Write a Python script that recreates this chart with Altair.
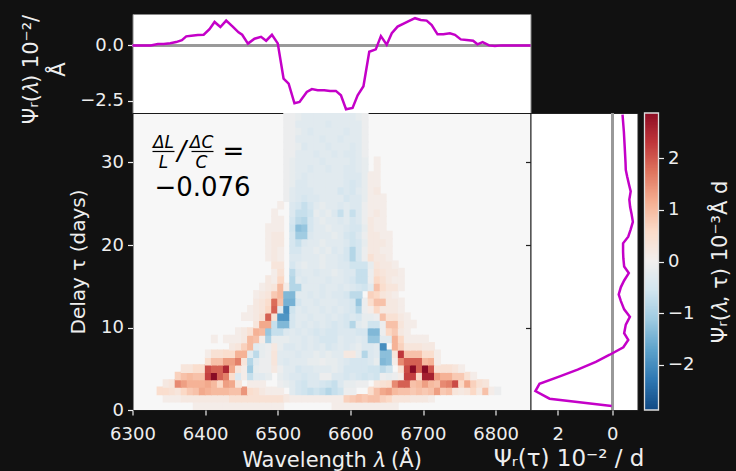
import altair as alt
import numpy as np
import pandas as pd
from altair.utils.html import HTML_TEMPLATE

# top panel: response vs wavelength
TOP_WL = [6300,6317,6325,6335,6343,6352,6360,6368,6374,6381,6390,6398,6406,6413,6421,6429,6438,6446,6451,6459,6468,6477,6484,6492,6500,6508,6515,6523,6530,6540,6547,6555,6564,6572,6580,6587,6594,6603,6610,6618,6626,6635,6642,6650,6657,6665,6674,6681,6689,6697,6705,6712,6720,6728,6737,6744,6752,6760,6769,6775,6782,6791,6799,6808,6848]
TOP_VAL = [0,0,0,.06,.06,.1,.15,.24,.41,.44,.47,.48,.73,1.06,.83,1.12,.85,.59,.48,.08,.3,.39,.21,.48,.09,-1.5,-1.73,-2.62,-2.56,-2.11,-1.98,-2.03,-2.03,-2.06,-2.06,-2.26,-2.89,-2.83,-2.26,-1.85,-.29,-.18,.42,.03,.55,.85,1.0,1.11,1.23,1.15,1.12,.92,.5,.5,.55,.48,.27,.24,.21,.05,.15,0,-.03,0,0]

# right panel: response vs delay
RIGHT_DELAY = [.48,1.37,2.3,3.18,4.1,4.9,5.84,6.7,7.6,8.5,9.3,10.35,11.3,12.2,13.2,14,14.9,15.7,16.6,17.4,18.4,19.2,20.2,21,21.9,22.8,23.8,24.6,25.5,26.5,27.3,28.3,29.1,30,31.9,33.7,35.8]
RIGHT_VAL = [.02,2.3,2.82,2.67,1.9,1.27,.6,.09,-.41,-.59,-.44,-.5,-.65,-.44,-.32,-.24,-.32,-.44,-.61,-.44,-.41,-.4,-.4,-.59,-.68,-.76,-.71,-.66,-.63,-.68,-.62,-.55,-.5,-.49,-.46,-.43,-.38]

# heat map, tenths of a unit, rows from delay 0 upward, columns from 6300 A
HEAT_ROWS = [
 [0]*10+[1]*15+[0]*8+[1]*11,
 [0]*5+[1,1,1,2,2,2,2,2,2,2,2,4,4,4,4,4,4,4,4,4,2,1,1,1,1,1,1,1,1,1,7,8,9,8,9,9,7,6,3,3,3,2,2,2,1],
 [0,0,0,0,5,5,4,3,6,8,9,12,11,10,10,10,9,9,14,5,4,2,1,1,1,0,-3,-5,-6,-7,-6,-7,-9,-7,-6,-1,-1,0,0,5,9,12,13,10,9,9,8,9,8,9,13,8,9,3,2,3,6,2,9,1,-1],
 [0,0,0,0,0,2,3,15,13,11,11,11,12,10,6,13,12,3,0,1,1,1,0,0,-1,-2,-3,-5,-6,-4,-4,-5,-6,-7,-4,-2,-2,-1,-1,0,3,4,5,15,19,19,9,10,13,10,9,15,16,21,6,12,7,4,3],
 [0]*7+[7,9,10,9,9,22,29,19,16,5,-4,1,-7,-3,-3,-2,0,-2,-3,-4,-4,-5,-4,-4,-1,-1,-4,-4,-5,-4,-5,-6,-5,-6,-1,-2,-1,1,22,22,6,26,26,13,11,11,8,8,4,1],
 [0]*8+[3,3,5,5,21,19,19,25,12,3,1,-11,-2,-1,-1,2,-1,-3,-3,-5,-4,-4,-3,-3,-3,-2,-3,-5,-5,-5,-5,-6,-6,-8,-6,0,4,21,29,19,29,20,4,4,4,3,1],
 [0]*12+[5,9,9,13,13,16,3,-9,-3,-1,-1,3,-3,-4,-3,-3,-3,-2,-2,-1,-2,-2,-3,-4,-5,-5,-5,-4,-2,-14,-13,1,15,19,19,19,10,11,1],
 [0]*12+[1,4,4,5,5,11,11,-3,-8,-2,-1,3,-3,-3,-3,-4,-3,-3,-2,-3,-2,-3,-3,2,2,-2,-9,-4,-3,-13,-13,3,23,9,9,9,5,5,1],
 [0]*16+[2,3,7,10,-3,-2,-1,2,-2,-4,-4,-3,-4,-3,-4,-3,-5,-4,-3,-4,-3,-2,-4,-4,-3,-20,0,11,7,3,3,3,2,2],
 [0]*13+[1,0,1,1,1,2,10,9,1,-10,-2,-2,-2,-3,-3,-4,-3,-4,-5,-5,-5,-3,-4,-4,-3,-4,-12,-12,-3,-3,11,6,1,1,1,1],
 [0]*17+[1,2,4,11,10,-12,-7,-7,-4,-3,-4,-3,-4,-5,-4,-5,-5,-4,-4,-4,-5,-5,-14,-14,-1,6,8,2,1],
 [0]*20+[3,12,12,-7,-14,-14,-5,-3,-4,-3,-4,-3,-4,-5,-4,-5,-9,-3,-2,-6,-6,-1,9,9,3,1,1],
 [0]*18+[1,1,2,4,19,4,-19,-19,-5,-3,-3,-4,-3,-3,-4,-3,-4,-5,-4,-5,-2,-2,-1,9,4,4,2,1],
 [0]*19+[1,2,3,6,19,-3,-20,-6,-3,-4,-3,-3,-4,-3,-4,-3,-4,-5,-9,-1,1,6,2,2,2,1],
 [0]*20+[2,3,5,18,9,-15,-15,-5,-3,-3,-4,-3,-3,-3,-4,-4,-5,-12,-1,5,9,9,2,2,1],
 [0]*20+[1,2,3,8,10,-14,-14,-3,-3,-4,-3,-4,-3,-4,-4,-5,-8,-8,0,7,6,3,2,1],
 [0]*21+[1,2,3,10,1,-9,-9,-3,-3,-3,-4,-3,-3,-4,-3,-4,-5,-6,-3,9,5,3,3,1],
 [0]*22+[2,1,6,0,-9,-3,-4,-3,-3,-3,-4,-3,-3,-4,-5,-7,-7,-1,6,4,2,1,1],
 [0]*23+[1,4,0,-8,-4,-3,-3,-4,-3,-3,-2,-3,-4,-4,-7,-7,-1,4,3,2,2,1],
 [0]*23+[3,3,0,-5,-3,-2,-3,-3,-2,-3,-3,-4,-4,-6,-6,-6,-2,3,2,2,1],
 [0]*22+[1,2,1,0,-4,-4,-3,-3,-3,-2,-3,-3,-4,-5,-9,-5,-1,4,2,2,1],
 [0]*22+[1,2,1,0,-5,-5,-3,-3,-2,-3,-2,-4,-3,-5,-9,-5,-1,2,2,1,1],
 [0]*22+[1,2,2,0,-5,-7,-4,-3,-3,-2,-3,-3,-3,-4,-6,-5,-2,2,2,2,1],
 [0]*22+[1,2,2,0,-5,-11,-11,-4,-3,-3,-3,-2,-3,-5,-6,-4,-1,2,2,1,1],
 [0]*22+[1,1,1,0,-6,-13,-12,-5,-3,-3,-2,-3,-3,-4,-5,-5,-2,2,1,1],
 [0]*23+[1,1,0,-5,-8,-9,-5,-3,-2,-3,-3,-4,-3,-5,-4,-1,2,1,1],
 [0]*23+[1,0,0,-4,-7,-7,-6,-2,-3,-2,-4,-7,-3,-7,-4,-1,1,2,1],
 [0]*24+[1,0,-4,-5,-7,-5,-3,-2,-3,-3,-4,-3,-4,-4,-1,1,1,1],
 [0]*25+[-1,-3,-4,-5,-4,-4,-3,-3,-3,-3,-5,-4,-4,-2,1,1,1],
 [0]*25+[-1,-3,-4,-4,-4,-3,-3,-3,-3,-5,-4,-5,-3,-2,1,2],
 [0]*25+[-1,-2,-4,-4,-3,-3,-3,-3,-3,-3,-4,-5,-4,-2,1,1],
 [0]*25+[-1,-2,-3,-4,-3,-3,-3,-3,-3,-3,-4,-4,-4,-2,1,1],
 [0]*25+[-1,-2,-3,-3,-4,-3,-3,-4,-3,-3,-4,-4,-3,-2,0,1],
 [0]*25+[-1,-2,-3,-3,-3,-3,-4,-3,-3,-3,-3,-4,-3,-2,0,1],
 [0]*25+[-1,-1,-3,-3,-3,-4,-3,-3,-4,-3,-4,-4,-3,-1],
 [0]*25+[-1,-1,-2,-4,-3,-3,-3,-4,-3,-3,-3,-4,-3,-1],
 [0]*25+[-1,-1,-3,-3,-3,-3,-4,-3,-3,-4,-3,-3,-3,-1],
 [0]*25+[-1,-1,-2,-3,-4,-3,-3,-3,-3,-3,-4,-3,-3,-1],
 [0]*25+[-1,-1,-3,-3,-3,-3,-3,-4,-3,-3,-3,-3,-3,-1],
 [0]*25+[-1,-1,-2,-3,-3,-3,-3,-3,-3,-3,-3,-3,-2,-1],
]

WL_TICKS = [6300,6400,6500,6600,6700,6800]
DELAY_TICKS = [0,10,20,30]
TOP_TICKS = [0,-2.5]
RIGHT_TICKS = [2,0]
CB_TICKS = [-2,-1,0,1,2]
WL_DOMAIN = [6300,6848]
DELAY_DOMAIN = [0,36]
V_DOMAIN = [-2.87,2.87]
BG = "#111111"
LINE = "#c400c8"
FG = "#eeeeee"
FONT = "DejaVu Sans"
TITLE_SIZE = 21

CELL_W = (WL_DOMAIN[1]-WL_DOMAIN[0])/66
CELL_H = 0.9
OVER = 1.15
cells = []
for r, row in enumerate(HEAT_ROWS):
    for c, v in enumerate(row):
        if v != 0:
            cells.append(dict(w0=6300+c*CELL_W, w1=6300+(c+OVER)*CELL_W, d0=r*CELL_H, d1=(r+OVER)*CELL_H, v=v/10))
cells = pd.DataFrame(cells)
color = alt.Color("v:Q", legend=None, scale=alt.Scale(scheme="redblue", reverse=True, domain=V_DOMAIN))
one = pd.DataFrame({"a":[0]})

# ---- main
x_main = alt.X("w0:Q", scale=alt.Scale(domain=WL_DOMAIN, nice=False, zero=False),
    axis=alt.Axis(values=WL_TICKS, format="d", title="Wavelength 𝜆 (Å)", titlePadding=6, labelPadding=10))
y_main = alt.Y("d0:Q", scale=alt.Scale(domain=DELAY_DOMAIN, nice=False),
    axis=alt.Axis(values=DELAY_TICKS, title="Delay τ (days)", titleFontSize=20, titlePadding=12, labelPadding=4))
heat = alt.Chart(cells).mark_rect(stroke=None, clip=True).encode(x=x_main, x2="w1:Q", y=y_main, y2="d1:Q", color=color)

def txt(s, x, y, size, italic=False):
    kw = dict(fontStyle="italic") if italic else {}
    return alt.Chart(one).mark_text(font=FONT, fontSize=size, color="#000000", align="center", baseline="middle", **kw).encode(
        x=alt.value(x), y=alt.value(y), text=alt.value(s))
def bar(x0, x1, y):
    return alt.Chart(one).mark_rule(color="#000000", strokeWidth=1.2).encode(x=alt.value(x0), x2=alt.value(x1), y=alt.value(y))
annot = [txt("ΔL",31,30,17,True), bar(20,42,38.5), txt("L",31,50,17,True), txt("/",49,39,26,True),
         txt("ΔC",69,30,17,True), bar(59,81,38.5), txt("C",69,50,17,True), txt("=",101,39,26),
         txt("−0.076",70,75,26)]
main = alt.layer(heat, *annot).properties(width=398, height=297,
    view=alt.ViewConfig(fill="#f7f7f7", stroke="#1a1a1a"))

# ---- top
top_df = pd.DataFrame({"w":TOP_WL,"v":TOP_VAL})
x_top = alt.X("w:Q", scale=alt.Scale(domain=WL_DOMAIN, nice=False, zero=False), axis=None)
y_top = alt.Y("v:Q", scale=alt.Scale(domain=[-3.06,1.42], nice=False),
    axis=alt.Axis(values=TOP_TICKS, format=".1f", title=["Ψᵣ(𝜆) 10⁻²/","Å"], titlePadding=11, titleLineHeight=27, labelPadding=4, titleY=55))
top = alt.layer(
    alt.Chart(top_df).mark_rule(color="#999999", strokeWidth=2).encode(y=alt.datum(0, scale=alt.Scale(domain=[-3.06,1.42], nice=False))),
    alt.Chart(top_df).mark_line(color=LINE, strokeWidth=2.5).encode(x=x_top, y=y_top),
).properties(width=398, height=99, view=alt.ViewConfig(fill="#ffffff", stroke="#888888"))

# ---- right
right_df = pd.DataFrame({"d":RIGHT_DELAY,"v":RIGHT_VAL})
x_r = alt.X("v:Q", scale=alt.Scale(domain=[3.0,-0.93], nice=False),
    axis=alt.Axis(values=RIGHT_TICKS, format="d", title="Ψᵣ(τ) 10⁻² / d", titleFontSize=23, titlePadding=4, labelPadding=10, titleX=38))
y_r = alt.Y("d:Q", scale=alt.Scale(domain=DELAY_DOMAIN, nice=False),
    axis=alt.Axis(values=[10,20,30], labels=False, title=None, tickColor="#222222"))
right = alt.layer(
    alt.Chart(right_df).mark_rule(color="#999999", strokeWidth=2).encode(x=alt.datum(0, scale=alt.Scale(domain=[3.0,-0.93], nice=False))),
    alt.Chart(right_df).mark_line(color=LINE, strokeWidth=2.5, order=False).encode(x=x_r, y=y_r),
).properties(width=107, height=297, view=alt.ViewConfig(fill="#ffffff", stroke="#222222"))

# ---- colour bar
levels = np.linspace(V_DOMAIN[0], V_DOMAIN[1], 201)
cb_df = pd.DataFrame({"v":levels[:-1], "v2":np.minimum(levels[1:]+0.03, V_DOMAIN[1])})
cbar_fill = alt.Chart(cb_df).mark_rect(stroke=None).encode(
    x=alt.value(7), x2=alt.value(21),
    y=alt.Y("v:Q", scale=alt.Scale(domain=V_DOMAIN, nice=False),
        axis=alt.Axis(orient="right", values=CB_TICKS, format="d", title="Ψᵣ(𝜆, τ) 10⁻³Å d", titleAngle=270, titleBaseline="bottom", titlePadding=36, labelPadding=4)),
    y2="v2:Q", color=color,
)
cbar_edge = alt.Chart(one).mark_rect(fill=None, stroke="#dddddd", strokeWidth=1.3).encode(
    x=alt.value(7), x2=alt.value(21), y=alt.value(0), y2=alt.value(297))
cbar = alt.layer(cbar_fill, cbar_edge).properties(width=21, height=297, view=alt.ViewConfig(stroke=None))

blank = lambda w: alt.Chart(one).mark_point(opacity=0).encode(x=alt.value(0), y=alt.value(0)).properties(width=w, height=99, view=alt.ViewConfig(stroke=None))

chart = alt.concat(top, blank(107), blank(21), main, right, cbar, columns=3, spacing=0, bounds="flush", align="each").properties(
    background=BG, padding={"left":19.5,"top":11,"right":0,"bottom":0}
).configure_axis(
    grid=False, domain=False, labelFont=FONT, titleFont=FONT, labelFontSize=18, titleFontSize=TITLE_SIZE,
    labelColor=FG, titleColor=FG, tickColor=FG, tickSize=5, tickWidth=1.2, titleFontWeight="normal", labelFlush=False
).resolve_scale(x="independent", y="independent", color="independent")

_render = HTML_TEMPLATE.render
HTML_TEMPLATE.render = lambda *a, **k: _render(*a, **k).replace("<head>", "<head><style>html,body{background:#111111;margin:0;padding:0;overflow:hidden}</style>", 1)
chart.save("out.html", embed_options={"renderer": "svg", "actions": False}, template=HTML_TEMPLATE)
